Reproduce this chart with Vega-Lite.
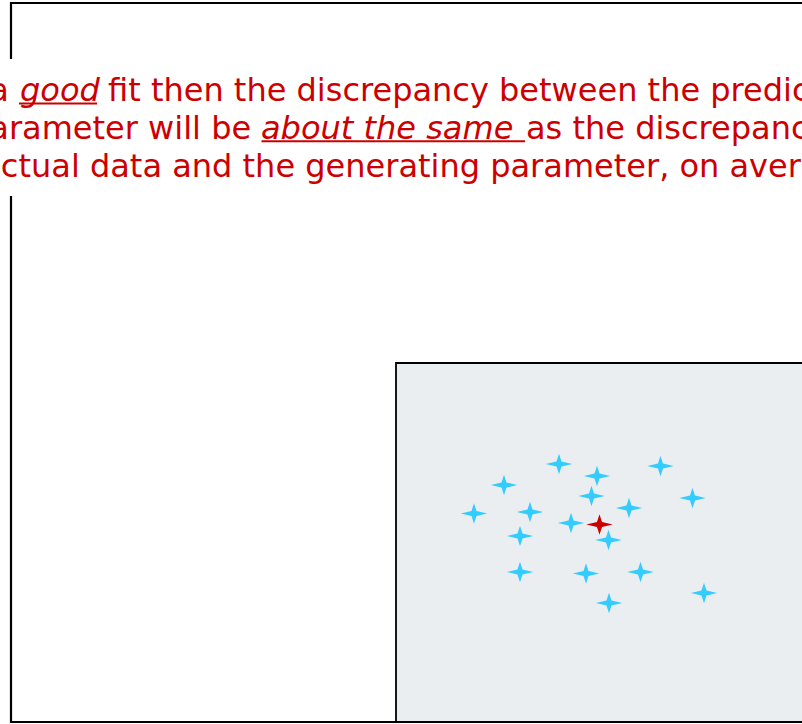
{
  "$schema": "https://vega.github.io/schema/vega-lite/v6.json",
  "width": 802,
  "height": 724,
  "autosize": {"type": "none"},
  "padding": 0,
  "background": "white",
  "config": {"view": {"stroke": null}},
  "datasets": {
    "frame": [{"x": 11, "x2": 900, "y": 3, "y2": 722}],
    "band": [{"x": -10, "x2": 900, "y": 59, "y2": 196}],
    "panel": [{"x": 396, "x2": 900, "y": 363, "y2": 722}],
    "plain": [
      {"x": -109, "y": 101, "text": "If it is a"},
      {"x": 108, "y": 101, "text": "fit then the discrepancy between the predicted"},
      {"x": -31, "y": 138.5, "text": "parameter will be"},
      {"x": 526, "y": 138.5, "text": "as the discrepancy between the"},
      {"x": -230, "y": 177, "text": "between the actual data and the generating parameter, on average."}
    ],
    "emphasis": [
      {"x": 20, "y": 101, "u": 103.5, "ux": 19, "ux2": 97, "text": "good"},
      {"x": 261, "y": 138.5, "u": 141.3, "ux": 261.5, "ux2": 525, "text": "about the same"}
    ],
    "points": [
      {"x": 559, "y": 464, "kind": "sample"},
      {"x": 597, "y": 476, "kind": "sample"},
      {"x": 660.5, "y": 466, "kind": "sample"},
      {"x": 504, "y": 485, "kind": "sample"},
      {"x": 591.5, "y": 496, "kind": "sample"},
      {"x": 692.5, "y": 498, "kind": "sample"},
      {"x": 474, "y": 513.5, "kind": "sample"},
      {"x": 530, "y": 512, "kind": "sample"},
      {"x": 629, "y": 508, "kind": "sample"},
      {"x": 571, "y": 523, "kind": "sample"},
      {"x": 520, "y": 536, "kind": "sample"},
      {"x": 608.5, "y": 540, "kind": "sample"},
      {"x": 520, "y": 572, "kind": "sample"},
      {"x": 586, "y": 573.5, "kind": "sample"},
      {"x": 640.5, "y": 572, "kind": "sample"},
      {"x": 704, "y": 593, "kind": "sample"},
      {"x": 609, "y": 603, "kind": "sample"},
      {"x": 599.5, "y": 524.5, "kind": "generating"}
    ]
  },
  "layer": [
    {
      "data": {"name": "frame"},
      "mark": {"type": "rect", "fill": "white", "stroke": "black", "strokeWidth": 2.2, "clip": true},
      "encoding": {
        "x": {"field": "x", "type": "quantitative", "scale": {"domain": [0, 802], "nice": false, "zero": false}, "axis": null},
        "x2": {"field": "x2"},
        "y": {"field": "y", "type": "quantitative", "scale": {"domain": [0, 724], "nice": false, "zero": false, "reverse": true}, "axis": null},
        "y2": {"field": "y2"}
      }
    },
    {
      "data": {"name": "band"},
      "mark": {"type": "rect", "fill": "white", "clip": true},
      "encoding": {
        "x": {"field": "x", "type": "quantitative"},
        "x2": {"field": "x2"},
        "y": {"field": "y", "type": "quantitative"},
        "y2": {"field": "y2"}
      }
    },
    {
      "data": {"name": "panel"},
      "mark": {"type": "rect", "fill": "#EAEEF1", "stroke": "black", "strokeWidth": 1.8, "clip": true},
      "encoding": {
        "x": {"field": "x", "type": "quantitative"},
        "x2": {"field": "x2"},
        "y": {"field": "y", "type": "quantitative"},
        "y2": {"field": "y2"}
      }
    },
    {
      "data": {"name": "plain"},
      "mark": {"type": "text", "align": "left", "baseline": "alphabetic", "font": "DejaVu Sans", "fontSize": 32, "color": "#CC0000", "clip": true},
      "encoding": {
        "x": {"field": "x", "type": "quantitative"},
        "y": {"field": "y", "type": "quantitative"},
        "text": {"field": "text"}
      }
    },
    {
      "data": {"name": "emphasis"},
      "mark": {"type": "text", "align": "left", "baseline": "alphabetic", "font": "DejaVu Sans", "fontSize": 32, "fontStyle": "italic", "color": "#CC0000", "clip": true},
      "encoding": {
        "x": {"field": "x", "type": "quantitative"},
        "y": {"field": "y", "type": "quantitative"},
        "text": {"field": "text"}
      }
    },
    {
      "data": {"name": "emphasis"},
      "mark": {"type": "rule", "color": "#CC0000", "strokeWidth": 2, "clip": true},
      "encoding": {
        "x": {"field": "ux", "type": "quantitative"},
        "x2": {"field": "ux2"},
        "y": {"field": "u", "type": "quantitative"}
      }
    },
    {
      "data": {"name": "points"},
      "mark": {
        "type": "point",
        "filled": true,
        "opacity": 1,
        "size": 700,
        "shape": "M0,-0.78 L0.19,-0.19 L1,0 L0.19,0.19 L0,0.78 L-0.19,0.19 L-1,0 L-0.19,-0.19 Z",
        "clip": true
      },
      "encoding": {
        "x": {"field": "x", "type": "quantitative"},
        "y": {"field": "y", "type": "quantitative"},
        "color": {"field": "kind", "type": "nominal", "scale": {"domain": ["sample", "generating"], "range": ["#33CCFF", "#CC0000"]}, "legend": null}
      }
    }
  ]
}
